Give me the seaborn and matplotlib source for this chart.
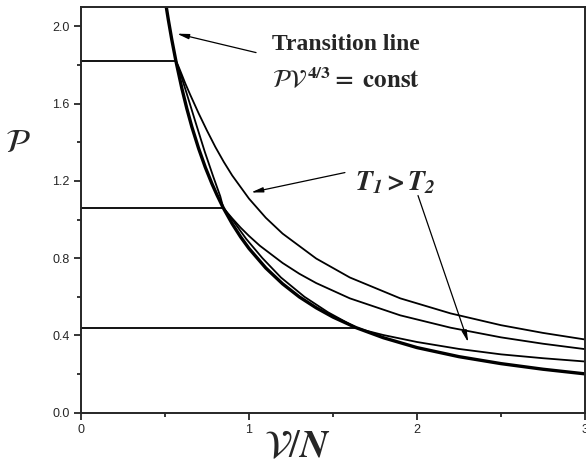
import numpy as np
import pandas as pd
import seaborn as sns
import matplotlib
matplotlib.use("Agg")
import matplotlib.pyplot as plt
from matplotlib.ticker import MultipleLocator, FormatStrFormatter

# transition line  P V^(4/3) = const
trans_v = [0.5, 0.52, 0.54, 0.565, 0.6, 0.63, 0.66, 0.7, 0.74, 0.78, 0.81, 0.847, 0.9, 0.95,
           1.0, 1.1, 1.2, 1.3, 1.4, 1.5, 1.638, 1.8, 2.0, 2.25, 2.5, 2.75, 3.0]
trans_p = [2.141, 2.033, 1.933, 1.82, 1.68, 1.574, 1.479, 1.368, 1.27, 1.184, 1.126, 1.06, 0.978, 0.91,
           0.85, 0.749, 0.667, 0.599, 0.543, 0.495, 0.44, 0.388, 0.337, 0.29, 0.254, 0.225, 0.201]

# flat (condensate) parts of the isotherms
flat_p = [1.82, 1.06, 0.44]
flat_v = [0.565, 0.847, 1.638]

# isotherm curves
iso1_v = [0.565, 0.58, 0.6, 0.62, 0.65, 0.7, 0.75, 0.8, 0.85, 0.9, 1.0, 1.1, 1.2, 1.4, 1.6, 1.9, 2.2, 2.5, 2.75, 3.0]
iso1_p = [1.82, 1.793, 1.75, 1.706, 1.646, 1.55, 1.46, 1.375, 1.298, 1.228, 1.108, 1.009, 0.927, 0.798, 0.70,
          0.592, 0.514, 0.453, 0.413, 0.379]
iso2_v = [0.565, 0.594, 0.63, 0.683, 0.737, 0.788, 0.829, 0.847, 0.9, 0.95, 1.0, 1.065, 1.2, 1.3, 1.4, 1.6,
          1.9, 2.2, 2.5, 2.75, 3.0]
iso2_p = [1.82, 1.75, 1.65, 1.5, 1.35, 1.22, 1.12, 1.06, 1.006, 0.958, 0.915, 0.864, 0.775, 0.719,
          0.671, 0.592, 0.504, 0.44, 0.39, 0.357, 0.329]
iso3_v = [0.847, 0.9, 0.983, 1.08, 1.19, 1.33, 1.47, 1.575, 1.638, 1.7, 1.8, 1.9, 2.0, 2.25, 2.5, 2.75, 3.0]
iso3_p = [1.06, 1.0, 0.9, 0.8, 0.7, 0.6, 0.52, 0.47, 0.44, 0.424, 0.402, 0.384, 0.366, 0.33,
          0.302, 0.282, 0.265]

sns.set_style("ticks")
plt.rcParams["font.family"] = ["Liberation Sans", "DejaVu Sans"]
plt.rcParams["mathtext.fontset"] = "stix"

fig = plt.figure(figsize=(5.86, 4.68), dpi=100)
ax = fig.add_axes([81 / 586, 55.3 / 468, 504 / 586, 405.7 / 468])

thin = dict(color="black", linewidth=1.3, sort=False, ax=ax)
sns.lineplot(x=iso1_v, y=iso1_p, **thin)
sns.lineplot(x=iso2_v, y=iso2_p, **thin)
sns.lineplot(x=iso3_v, y=iso3_p, **thin)
for p, v in zip(flat_p, flat_v):
    sns.lineplot(x=[0, v], y=[p, p], **thin)
sns.lineplot(x=trans_v, y=trans_p, color="black", linewidth=2.4, sort=False, ax=ax)

ax.set_xlim(0, 3)
ax.set_ylim(0, 2.1)
ax.xaxis.set_major_locator(MultipleLocator(1))
ax.xaxis.set_minor_locator(MultipleLocator(0.5))
ax.yaxis.set_major_locator(MultipleLocator(0.4))
ax.yaxis.set_minor_locator(MultipleLocator(0.2))
ax.yaxis.set_major_formatter(FormatStrFormatter("%.1f"))
ax.tick_params(which="major", direction="out", length=5, width=1.3, labelsize=9, pad=3)
ax.tick_params(which="minor", direction="out", length=3, width=1.3)
for s in ax.spines.values():
    s.set_linewidth(1.4)
ax.set_xlabel("")
ax.set_ylabel("")

serif = ["Liberation Serif", "DejaVu Serif"]
ax.text(1.137, 1.905, "Transition line", family=serif, fontweight="bold",
        fontsize=17, va="center", ha="left")
ax.text(1.137, 1.72, r"$\mathcal{PV}^{\,\mathbf{4/3}}\mathbf{=\ const}$",
        fontsize=18, va="center", ha="left")
ax.text(1.63, 1.19, r"$\mathbfit{T_1 > T_2}$", fontsize=20, va="center", ha="left")

arrow = dict(arrowstyle="-|>,head_length=0.7,head_width=0.15", color="black",
             lw=0.9, shrinkA=0, shrinkB=0)
ax.annotate("", xy=(0.571, 1.962), xytext=(1.042, 1.864), arrowprops=arrow)
ax.annotate("", xy=(1.012, 1.14), xytext=(1.571, 1.243), arrowprops=arrow)
ax.annotate("", xy=(2.305, 0.364), xytext=(2.006, 1.124), arrowprops=arrow)

ax.text(-0.375, 1.394, r"$\mathcal{P}$", fontsize=24, ha="center", va="center")
ax.text(1.29, -0.085, r"$\mathcal{V}/\mathbfit{N}$", transform=ax.get_xaxis_transform(),
        fontsize=28, ha="center", va="center")

fig.savefig("out.png", dpi=100)
